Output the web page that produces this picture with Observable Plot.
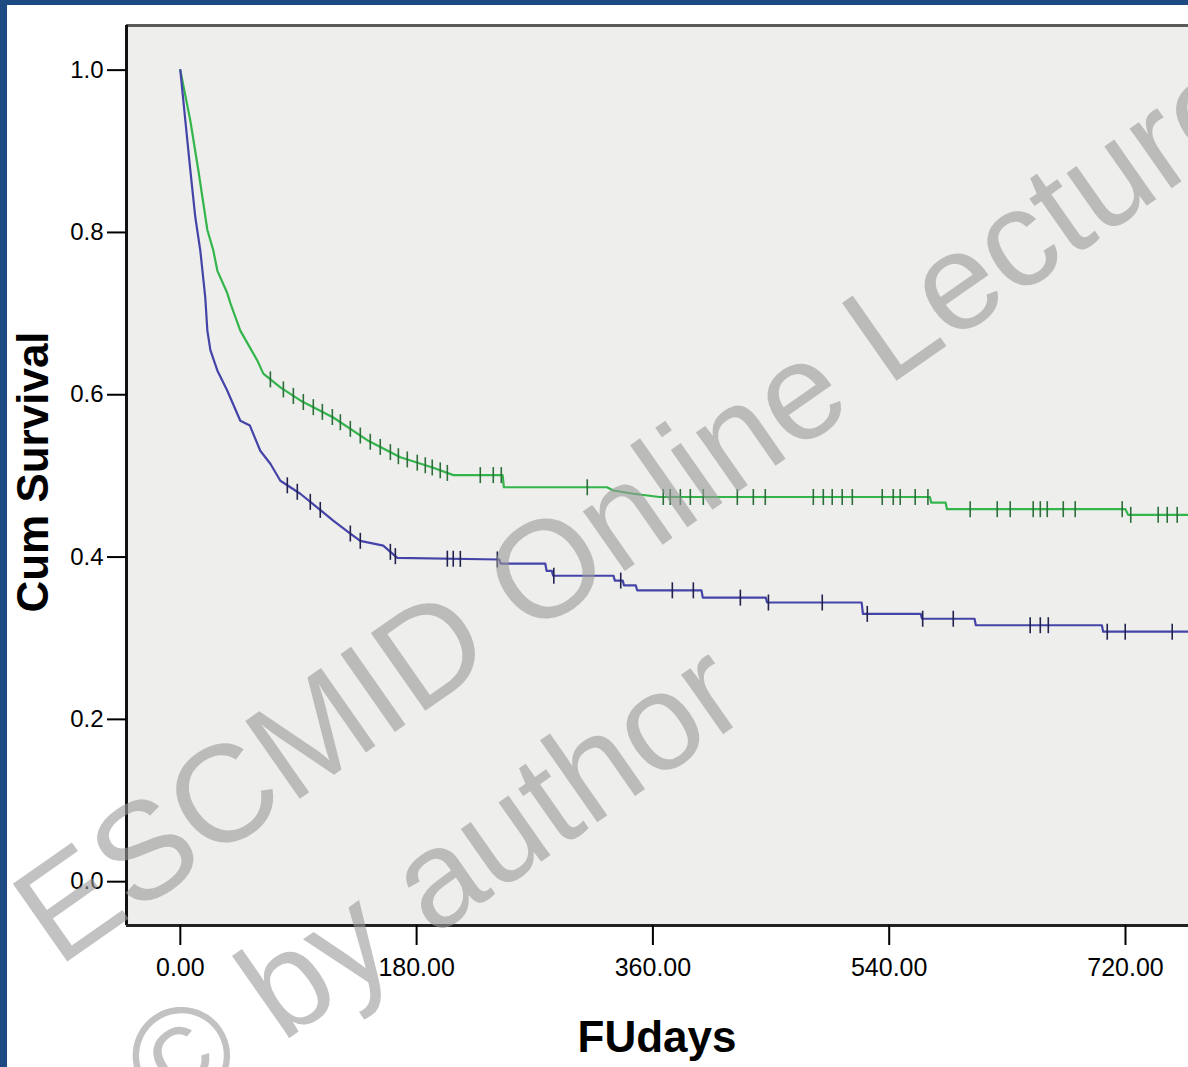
<!DOCTYPE html>
<html><head><meta charset="utf-8">
<script src="https://cdn.jsdelivr.net/npm/d3@7"></script>
<script src="https://cdn.jsdelivr.net/npm/@observablehq/plot@0.6"></script>
<style>
html,body{margin:0;padding:0;background:#fff;}
#chart{width:1188px;height:1067px;position:relative;overflow:hidden;background:#fff;}
#chart svg{display:block;}
</style></head><body><div id="chart"></div>
<script>
// ---- tick values ----
const xTicks = [0, 180, 360, 540, 720];
const yTicks = [0, 0.2, 0.4, 0.6, 0.8, 1.0];
const xDomain = [-41, 768];
const yDomain = [-0.054, 1.055];

// ---- group 1 (green) survival curve ----
const greenDays = [0, 7.6, 13.7, 20.6, 25.1, 28.2, 35.8, 38.1, 45.7, 58.7, 63.2, 76.2, 91.4, 116.5, 142.4, 167.6, 192.7, 208.0, 245.5, 246.5, 325, 330, 345, 365, 571, 572, 583, 584, 720, 722, 768];
const greenSurv = [1.0, 0.938, 0.877, 0.803, 0.778, 0.753, 0.725, 0.713, 0.679, 0.642, 0.626, 0.609, 0.593, 0.572, 0.544, 0.523, 0.510, 0.501, 0.501, 0.486, 0.486, 0.482, 0.478, 0.474, 0.474, 0.467, 0.467, 0.459, 0.459, 0.452, 0.452];
const greenCensored = [68.6, 78.5, 86.1, 93.7, 101.3, 108.2, 115.8, 121.9, 129.5, 137.1, 144.7, 152.3, 160.0, 166.1, 172.9, 180.5, 186.6, 191.9, 198.0, 203.4, 228.5, 238.4, 244.5, 310.0, 367.9, 373.2, 380.9, 388.5, 398.4, 424.3, 436.5, 445.6, 482.2, 489.8, 496.6, 504.2, 511.9, 534.7, 543.1, 548.4, 559.8, 569.5, 601.7, 622.3, 632.2, 649.7, 655.1, 660.4, 672.6, 681.7, 717.5, 724.0, 744.9, 751.8, 759.4];

// ---- group 2 (blue) survival curve ----
const blueDays = [0, 3.8, 7.6, 11.4, 15.2, 19.0, 20.6, 22.9, 28.2, 35.8, 45.7, 53, 60.9, 68.6, 76.2, 91.4, 104.4, 116.5, 129.5, 137.1, 154.6, 165.3, 243, 244, 278, 279, 283, 284, 330, 331, 337, 338, 347, 348, 397, 398, 446, 447, 519, 520, 564, 565, 605, 606, 702, 703, 768];
const blueSurv = [1.0, 0.938, 0.877, 0.819, 0.778, 0.720, 0.679, 0.655, 0.630, 0.605, 0.568, 0.562, 0.531, 0.515, 0.494, 0.478, 0.461, 0.445, 0.429, 0.420, 0.414, 0.399, 0.397, 0.392, 0.392, 0.383, 0.383, 0.377, 0.377, 0.371, 0.371, 0.365, 0.365, 0.359, 0.359, 0.350, 0.350, 0.344, 0.344, 0.330, 0.330, 0.324, 0.324, 0.316, 0.316, 0.308, 0.308];
const blueCensored = [81.5, 89.1, 99.0, 106.6, 129.5, 137.1, 160.0, 163.8, 203.4, 207.9, 213.3, 241.5, 284.5, 335.5, 374.8, 390.8, 426.6, 448.0, 489.0, 523.3, 565.5, 588.8, 647.4, 655.1, 661.2, 706.1, 719.8, 755.6];

// ---- helpers ----
function table(days, surv) { return days.map((d, i) => ({day: d, surv: surv[i]})); }
function survAt(days, surv, t) {
  const i = Math.max(0, Math.min(days.length - 2, d3.bisectRight(days, t) - 1));
  const f = (t - days[i]) / (days[i + 1] - days[i]);
  return surv[i] + (surv[i + 1] - surv[i]) * Math.max(0, Math.min(1, f));
}
const vtick = {draw(ctx, size) { const h = Math.sqrt(size / Math.PI); ctx.moveTo(0, -h); ctx.lineTo(0, h); }};

const greenLine = table(greenDays, greenSurv);
const blueLine = table(blueDays, blueSurv);
const greenMarks = greenCensored.map(t => ({day: t, surv: survAt(greenDays, greenSurv, t)}));
const blueMarks = blueCensored.map(t => ({day: t, surv: survAt(blueDays, blueSurv, t)}));

const chart = Plot.plot({
  width: 1188, height: 1067,
  marginLeft: 126, marginRight: 0, marginTop: 25, marginBottom: 142,
  x: {domain: xDomain},
  y: {domain: yDomain},
  style: {background: "transparent", color: "#000", fontFamily: "'Liberation Sans', Arial, sans-serif"},
  marks: [
    Plot.frame({fill: "#eeeeec", stroke: null}),
    Plot.ruleY([yDomain[1]], {stroke: "#5a5a5a", strokeWidth: 3}),
    Plot.line(greenLine, {x: "day", y: "surv", stroke: "#33b54c", strokeWidth: 2.2}),
    Plot.line(blueLine, {x: "day", y: "surv", stroke: "#4444a8", strokeWidth: 2.2}),
    Plot.dot(greenMarks, {x: "day", y: "surv", symbol: vtick, r: 8, stroke: "#2d6e3a", strokeWidth: 1.6, fill: "none"}),
    Plot.dot(blueMarks, {x: "day", y: "surv", symbol: vtick, r: 8, stroke: "#22224f", strokeWidth: 1.6, fill: "none"}),
    Plot.ruleX([xDomain[0]], {stroke: "#111", strokeWidth: 3}),
    Plot.ruleY([yDomain[0]], {stroke: "#222", strokeWidth: 3}),
    Plot.axisX(xTicks, {tickSize: 20, tickPadding: 13, fontSize: 25, tickFormat: d => d.toFixed(2), label: null, strokeWidth: 2}),
    Plot.axisY(yTicks, {tickSize: 19, tickPadding: 4, fontSize: 24, tickFormat: d => d.toFixed(1), label: null, strokeWidth: 2})
  ]
});
document.getElementById("chart").appendChild(chart);

const svg = d3.select(chart);
// axis titles
svg.append("text").attr("transform", "translate(48,472) rotate(-90)")
  .attr("text-anchor", "middle").attr("font-size", 44).attr("font-weight", "bold")
  .attr("font-family", "'Liberation Sans', Arial, sans-serif").attr("fill", "#000").text("Cum Survival");
svg.append("text").attr("x", 657).attr("y", 1052)
  .attr("text-anchor", "middle").attr("font-size", 44).attr("font-weight", "bold")
  .attr("font-family", "'Liberation Sans', Arial, sans-serif").attr("fill", "#000").text("FUdays");
// slide frame
svg.append("rect").attr("x", 0).attr("y", 0).attr("width", 7).attr("height", 1067).attr("fill", "#1e4a82");
svg.append("rect").attr("x", 0).attr("y", 0).attr("width", 1188).attr("height", 5).attr("fill", "#1e4a82");
// watermark
const wm = svg.append("g").attr("transform", "translate(58,968) rotate(-35)")
  .attr("font-family", "'Liberation Sans', Arial, sans-serif").attr("font-size", 138)
  .attr("text-anchor", "start")
  .attr("fill", "#9a9a9a").attr("fill-opacity", 0.6);
wm.append("text").attr("x", 0).attr("y", 0).attr("text-anchor", "start").text("ESCMID Online Lecture");
wm.append("text").attr("x", 0).attr("y", 190).attr("text-anchor", "start").text("© by author");
</script>
</body></html>
